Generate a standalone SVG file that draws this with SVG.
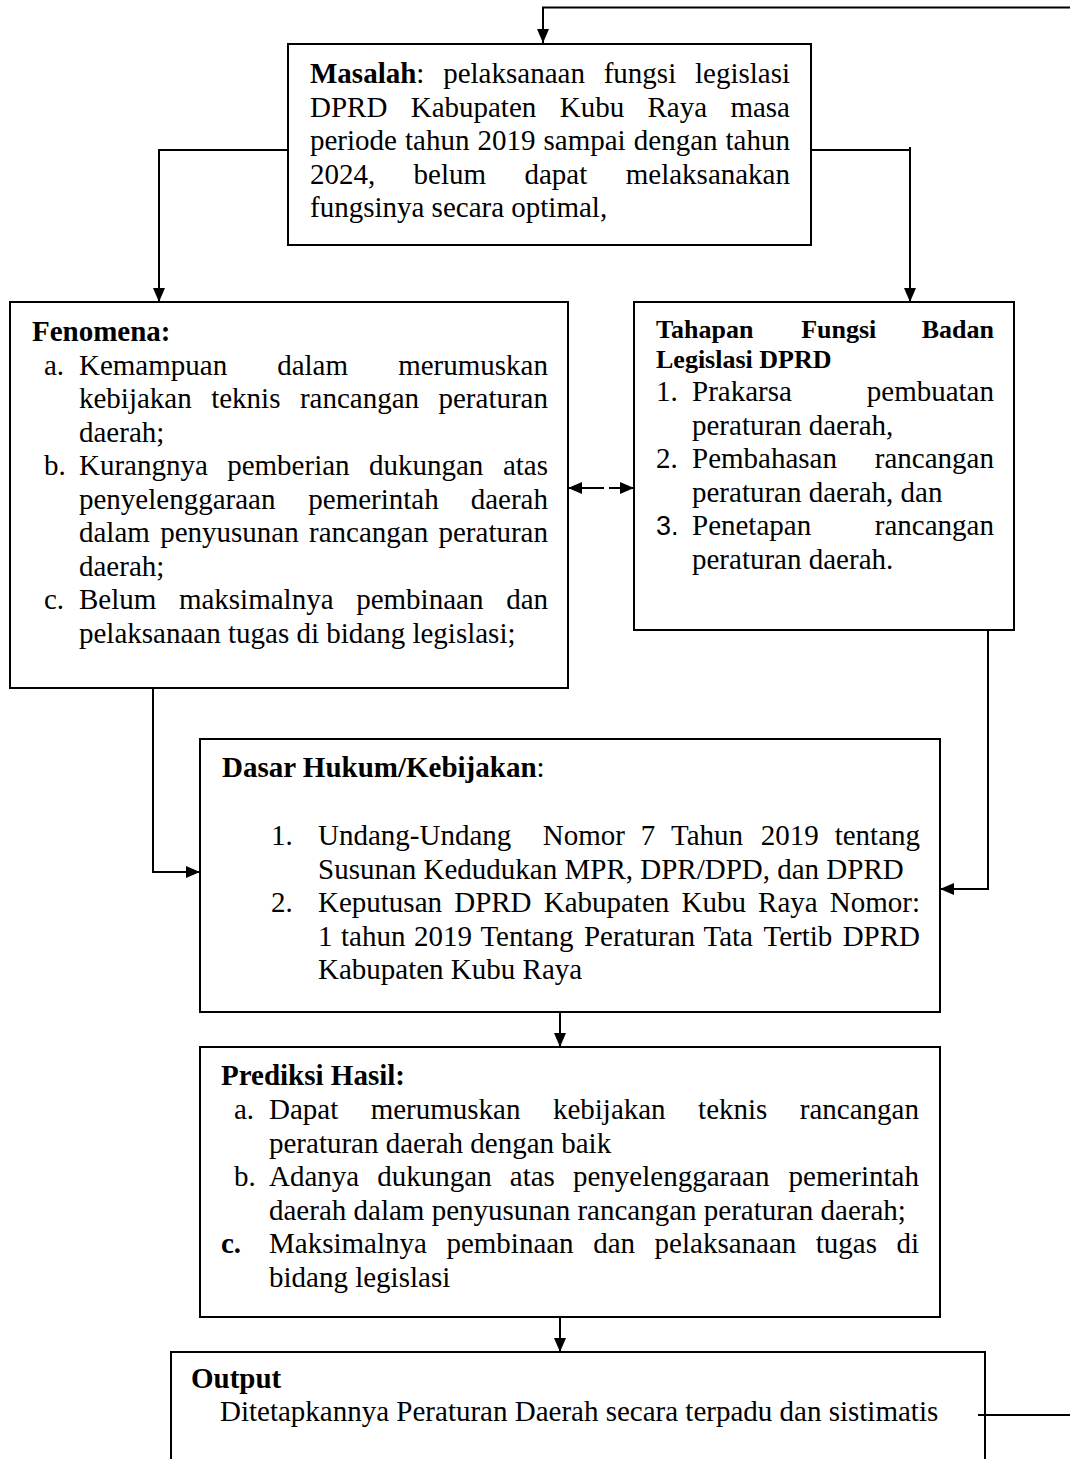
<svg xmlns="http://www.w3.org/2000/svg" width="1070" height="1459" viewBox="0 0 1070 1459">
<style>
.box{fill:#fff;stroke:#000;stroke-width:2}
.ln{fill:none;stroke:#000;stroke-width:2}
text{font-family:"Liberation Serif","Times New Roman",serif;font-size:29px;fill:#000}
.b{font-weight:bold}
.h{font-weight:bold;font-size:26px}
.sans{font-family:"Liberation Sans",Arial,sans-serif;font-size:27px}
.e{text-anchor:end}
</style>
<defs>
<marker id="ah" viewBox="0 0 14 12" refX="14" refY="6" markerWidth="14" markerHeight="12" markerUnits="userSpaceOnUse" orient="auto">
<path d="M0,0 L14,6 L0,12 z" fill="#000"/>
</marker>
</defs>

<g id="masalah">
<rect class="box" x="288" y="44" width="523" height="201"/>
<text y="83"><tspan x="310" class="b">Masalah</tspan><tspan>:</tspan><tspan x="443.2">pelaksanaan</tspan><tspan x="603.7">fungsi</tspan><tspan x="790" class="e">legislasi</tspan></text>
<text y="116.5"><tspan x="310">DPRD</tspan><tspan x="410.7">Kabupaten</tspan><tspan x="559.7">Kubu</tspan><tspan x="647.5">Raya</tspan><tspan x="790" class="e">masa</tspan></text>
<text y="150"><tspan x="310">periode</tspan><tspan x="405">tahun</tspan><tspan x="477.5">2019</tspan><tspan x="543.5">sampai</tspan><tspan x="633.8">dengan</tspan><tspan x="790" class="e">tahun</tspan></text>
<text y="183.5"><tspan x="310">2024,</tspan><tspan x="413.6">belum</tspan><tspan x="524.4">dapat</tspan><tspan x="790" class="e">melaksanakan</tspan></text>
<text x="310" y="217">fungsinya secara optimal,</text>
</g>

<g id="fenomena">
<rect class="box" x="10" y="302" width="558" height="386"/>
<text x="32" y="341" class="b">Fenomena:</text>
<text y="374.5"><tspan x="44">a.</tspan><tspan x="79">Kemampuan</tspan><tspan x="277.2">dalam</tspan><tspan x="548" class="e">merumuskan</tspan></text>
<text y="408"><tspan x="79">kebijakan</tspan><tspan x="211.2">teknis</tspan><tspan x="299.9">rancangan</tspan><tspan x="548" class="e">peraturan</tspan></text>
<text x="79" y="441.5">daerah;</text>
<text y="475"><tspan x="44">b.</tspan><tspan x="79">Kurangnya</tspan><tspan x="227.2">pemberian</tspan><tspan x="369">dukungan</tspan><tspan x="548" class="e">atas</tspan></text>
<text y="508.5"><tspan x="79">penyelenggaraan</tspan><tspan x="308.3">pemerintah</tspan><tspan x="548" class="e">daerah</tspan></text>
<text y="542"><tspan x="79">dalam</tspan><tspan x="160.2">penyusunan</tspan><tspan x="309">rancangan</tspan><tspan x="548" class="e">peraturan</tspan></text>
<text x="79" y="575.5">daerah;</text>
<text y="609"><tspan x="44">c.</tspan><tspan x="79">Belum</tspan><tspan x="178.9">maksimalnya</tspan><tspan x="356.2">pembinaan</tspan><tspan x="548" class="e">dan</tspan></text>
<text x="79" y="642.5">pelaksanaan tugas di bidang legislasi;</text>
</g>

<g id="tahapan">
<rect class="box" x="634" y="302" width="380" height="328"/>
<text y="338" class="h"><tspan x="656">Tahapan</tspan><tspan x="801.2">Fungsi</tspan><tspan x="994" class="e">Badan</tspan></text>
<text x="656" y="368" class="h">Legislasi DPRD</text>
<text y="401"><tspan x="656">1.</tspan><tspan x="692">Prakarsa</tspan><tspan x="994" class="e">pembuatan</tspan></text>
<text x="692" y="434.5">peraturan daerah,</text>
<text y="468"><tspan x="656">2.</tspan><tspan x="692">Pembahasan</tspan><tspan x="994" class="e">rancangan</tspan></text>
<text x="692" y="501.5">peraturan daerah, dan</text>
<text y="535"><tspan x="656" class="sans">3.</tspan><tspan x="692">Penetapan</tspan><tspan x="994" class="e">rancangan</tspan></text>
<text x="692" y="568.5">peraturan daerah.</text>
</g>

<g id="dasar">
<rect class="box" x="200" y="739" width="740" height="273"/>
<text x="222" y="777"><tspan class="b">Dasar Hukum/Kebijakan</tspan>:</text>
<text y="845"><tspan x="271">1.</tspan><tspan x="318">Undang-Undang</tspan><tspan x="542.8">Nomor</tspan><tspan x="640.7">7</tspan><tspan x="671">Tahun</tspan><tspan x="760.8">2019</tspan><tspan x="920" class="e">tentang</tspan></text>
<text x="318" y="878.5">Susunan Kedudukan MPR, DPR/DPD, dan DPRD</text>
<text y="912"><tspan x="271">2.</tspan><tspan x="318">Keputusan</tspan><tspan x="454.2">DPRD</tspan><tspan x="543.7">Kabupaten</tspan><tspan x="681.5">Kubu</tspan><tspan x="758.1">Raya</tspan><tspan x="920" class="e">Nomor:</tspan></text>
<text y="945.5"><tspan x="318">1</tspan><tspan x="341">tahun</tspan><tspan x="413.9">2019</tspan><tspan x="480.4">Tentang</tspan><tspan x="583.9">Peraturan</tspan><tspan x="703.5">Tata</tspan><tspan x="763.5">Tertib</tspan><tspan x="920" class="e">DPRD</tspan></text>
<text x="318" y="979">Kabupaten Kubu Raya</text>
</g>

<g id="prediksi">
<rect class="box" x="200" y="1047" width="740" height="270"/>
<text x="221" y="1085" class="b">Prediksi Hasil:</text>
<text y="1119"><tspan x="234">a.</tspan><tspan x="269">Dapat</tspan><tspan x="370.7">merumuskan</tspan><tspan x="552.9">kebijakan</tspan><tspan x="698.1">teknis</tspan><tspan x="919" class="e">rancangan</tspan></text>
<text x="269" y="1152.5">peraturan daerah dengan baik</text>
<text y="1186"><tspan x="234">b.</tspan><tspan x="269">Adanya</tspan><tspan x="377.3">dukungan</tspan><tspan x="509.8">atas</tspan><tspan x="573">penyelenggaraan</tspan><tspan x="919" class="e">pemerintah</tspan></text>
<text x="269" y="1219.5">daerah dalam penyusunan rancangan peraturan daerah;</text>
<text y="1253"><tspan x="221" class="b">c.</tspan><tspan x="269">Maksimalnya</tspan><tspan x="446.4">pembinaan</tspan><tspan x="593.2">dan</tspan><tspan x="654.6">pelaksanaan</tspan><tspan x="815.8">tugas</tspan><tspan x="919" class="e">di</tspan></text>
<text x="269" y="1286.5">bidang legislasi</text>
</g>

<g id="output">
<rect class="box" x="171" y="1352" width="814" height="130"/>
<text x="191" y="1388" class="b">Output</text>
<text x="220" y="1421">Ditetapkannya Peraturan Daerah secara terpadu dan sistimatis</text>
</g>

<g id="connectors">
<polyline class="ln" points="1070,7.5 543,7.5 543,43" marker-end="url(#ah)"/>
<polyline class="ln" points="288,150 159,150 159,302" marker-end="url(#ah)"/>
<polyline class="ln" points="811,150 910,150"/>
<polyline class="ln" points="910,147 910,302" marker-end="url(#ah)"/>
<line class="ln" x1="604" y1="488" x2="568" y2="488" marker-end="url(#ah)"/>
<line class="ln" x1="609" y1="488" x2="634" y2="488" marker-end="url(#ah)"/>
<polyline class="ln" points="153,688 153,872 200,872" marker-end="url(#ah)"/>
<polyline class="ln" points="988,630 988,889 940,889" marker-end="url(#ah)"/>
<line class="ln" x1="560" y1="1012" x2="560" y2="1047" marker-end="url(#ah)"/>
<line class="ln" x1="560" y1="1317" x2="560" y2="1352" marker-end="url(#ah)"/>
<line class="ln" x1="978" y1="1415" x2="1070" y2="1415"/>
</g>
</svg>
